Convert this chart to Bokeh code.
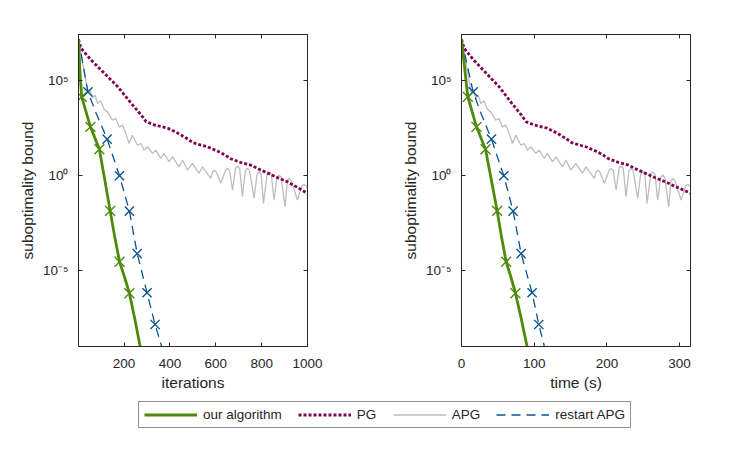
from bokeh.plotting import figure
from bokeh.models import (Range1d, FixedTicker, CustomJSTickFormatter,
                          LinearAxis, LogAxis, Legend)
from bokeh.layouts import row, column
from bokeh.embed import file_html
from bokeh.resources import INLINE

# ---------------- data ----------------
# our algorithm
our_iter = [1, 8, 15, 53, 92, 114, 139, 158, 180, 202, 223, 245, 270, 278]
our_time = [0, 5.4, 8.7, 20.6, 33.0, 40.5, 49.0, 54.7, 61.4, 68.0, 74.2, 81.7, 90.2, 92.7]
our_val = [1.58e7, 2.0e5, 1.45e4, 380, 25, 0.79, 0.0141, 7.1e-4, 2.95e-5,
           4.47e-6, 6.46e-7, 3.55e-8, 1.0e-9, 3.2e-10]
our_mark_iter = [15, 53, 92, 139, 180, 223]
our_mark_time = [8.7, 20.6, 33.0, 49.0, 61.4, 74.2]
our_mark_val = [1.45e4, 380, 25, 0.0141, 2.95e-5, 6.46e-7]

# PG
pg_iter = [1, 12, 56, 114, 172, 230, 274, 296, 332, 390, 434, 476, 500, 534,
           564, 607, 640, 665, 709, 753, 796, 825, 870, 913, 956, 1000]
pg_time = [0, 3.6, 16.8, 34.2, 51.6, 69.0, 82.2, 88.8, 99.6, 117.8, 131.5,
           144.2, 151.5, 161.8, 171.0, 184.5, 194.6, 202.2, 216.2, 229.7,
           243.0, 252.0, 266.5, 280.5, 296.8, 315.6]
pg_val = [1.58e7, 5.25e6, 1.26e6, 2.51e5, 5.0e4, 6.76e3, 1.62e3, 708, 479,
          324, 178, 89, 56, 41.7, 33.9, 20, 12.6, 7.94, 5.0, 3.63, 2.0, 1.41,
          0.79, 0.48, 0.245, 0.117]

# APG
apg_iter = [1, 20, 42, 50, 62, 73, 84, 98, 113, 127, 149, 164, 178, 193, 207,
            222, 236, 258, 273, 287, 302, 324, 338, 360, 374, 396, 411, 440,
            455, 476, 498, 527, 542, 578, 586, 593, 602, 622, 642, 651, 660,
            673, 686, 695, 704, 716, 729, 738, 747, 767, 780, 789, 798, 808,
            824, 833, 842, 854, 867, 876, 885, 902, 912, 920, 930, 956, 975,
            985, 995, 1000]
apg_time = [0, 6.3, 13.3, 15.8, 19.6, 23.1, 26.5, 31.0, 35.7, 40.1, 47.1,
            51.8, 56.2, 61.0, 65.4, 70.2, 74.6, 81.5, 86.3, 90.7, 95.4, 102.4,
            106.8, 113.8, 118.2, 125.1, 129.9, 139.0, 143.8, 150.4, 157.4,
            166.5, 171.3, 182.6, 185.2, 187.4, 190.2, 196.6, 202.9, 205.7,
            208.6, 212.7, 216.8, 219.6, 222.5, 226.3, 230.4, 233.2, 236.1,
            242.4, 246.5, 249.3, 252.2, 255.3, 260.4, 263.2, 266.1, 269.9,
            274.0, 276.8, 279.7, 285.0, 288.2, 290.7, 293.9, 302.1, 308.1,
            311.3, 314.4, 316.0]
apg_val = [1.58e7, 7.9e5, 2.63e4, 3.55e4, 1.26e4, 1.78e4, 6.46e3, 8.9e3,
           3.09e3, 2.34e3, 851, 1.05e3, 380, 468, 178, 50.1, 138, 41.7, 50.1,
           22.4, 33.9, 15.1, 22.4, 8.3, 15.1, 5.5, 10, 2.95, 6.76, 2.0, 4.47,
           1.35, 2.95, 0.72, 1.58, 2.0, 1.58, 0.40, 1.91, 2.45, 1.91, 0.178,
           2.51, 3.16, 2.4, 0.079, 1.91, 2.45, 1.86, 0.065, 1.26, 1.62, 1.23,
           0.035, 1.26, 1.62, 1.2, 0.052, 0.83, 1.1, 0.81, 0.023, 0.56, 0.72,
           0.52, 0.052, 0.28, 0.355, 0.28, 0.24]

# restart APG
rst_iter = [1, 42, 78, 126, 180, 223, 257, 300, 335, 364, 372]
rst_time = [0, 16.0, 26.8, 41.2, 58.2, 71.0, 82.0, 97.1, 106.3, 114.0, 116.5]
rst_val = [1.58e7, 2.63e4, 2.0e3, 85, 1.0, 0.0138, 7.9e-5, 6.8e-7, 1.45e-8,
           1.0e-9, 4.5e-10]
rst_mark_iter = [42, 126, 180, 223, 257, 300, 335]
rst_mark_time = [16.0, 41.2, 58.2, 71.0, 82.0, 97.1, 106.3]
rst_mark_val = [2.63e4, 85, 1.0, 0.0138, 7.9e-5, 6.8e-7, 1.45e-8]

iter_ticks = [200, 400, 600, 800, 1000]
time_ticks = [0, 100, 200, 300]
y_ticks = [1e-5, 1.0, 1e5]

labels = ["our algorithm", "PG", "APG", "restart APG"]

# ---------------- styles ----------------
FONT = "Liberation Sans"
AX = "#262626"
GREEN = "#4f8a0b"
PURPLE = "#7f0052"
GRAY = "#bdbdbd"
BLUE = "#0b5591"
DOT = "3 2"
DASH = "9 6"
NAN = float("nan")

sup_fmt = CustomJSTickFormatter(code=r"""
const e = Math.round(Math.log10(tick));
const m = {"-":"\u207B","0":"\u2070","1":"\u00B9","2":"\u00B2","3":"\u00B3",
           "4":"\u2074","5":"\u2075","6":"\u2076","7":"\u2077","8":"\u2078","9":"\u2079"};
return "10" + String(e).split("").map(c => m[c]).join("");
""")
blank_fmt = CustomJSTickFormatter(code="return '';")


def style_axis(ax, ticks, fmt):
    ax.ticker = FixedTicker(ticks=ticks)
    ax.formatter = fmt
    ax.axis_line_color = AX
    ax.major_tick_line_color = AX
    ax.major_tick_in = 4
    ax.major_tick_out = 0
    ax.minor_tick_line_color = None
    ax.major_label_text_font = FONT
    ax.major_label_text_font_size = "13.5px"
    ax.major_label_text_color = AX
    ax.axis_label_text_font = FONT
    ax.axis_label_text_font_size = "15.5px"
    ax.axis_label_text_font_style = "normal"
    ax.axis_label_text_color = AX


def panel(xr, xticks, xlabel, xs, width, left, right):
    p = figure(width=width, height=395, x_range=xr,
               y_range=Range1d(1e-9, 2.8e7), y_axis_type="log",
               output_backend="svg", toolbar_location=None,
               min_border_left=left, min_border_right=right,
               min_border_top=34, min_border_bottom=49)
    p.grid.visible = False
    p.outline_line_color = AX
    p.outline_line_width = 1
    p.background_fill_color = "white"
    p.border_fill_color = "white"

    style_axis(p.xaxis[0], xticks, p.xaxis[0].formatter)
    p.xaxis[0].axis_label = xlabel
    p.xaxis[0].major_label_standoff = 12
    p.xaxis[0].axis_label_standoff = 3
    style_axis(p.yaxis[0], y_ticks, sup_fmt)
    p.yaxis[0].axis_label = "suboptimality bound"
    p.yaxis[0].major_label_standoff = 10
    p.yaxis[0].axis_label_standoff = 4

    top = LinearAxis()
    style_axis(top, xticks, blank_fmt)
    p.add_layout(top, "above")
    rgt = LogAxis()
    style_axis(rgt, y_ticks, blank_fmt)
    p.add_layout(rgt, "right")

    x_apg, x_pg, x_rst, x_our, x_rst_m, x_our_m = xs
    p.line(x_apg, apg_val, line_color=GRAY, line_width=1.3)
    p.line(x_pg, pg_val, line_color=PURPLE, line_width=2.8, line_dash=DOT)
    p.line(x_rst, rst_val, line_color=BLUE, line_width=1.3, line_dash=DASH)
    p.scatter(x_rst_m, rst_mark_val, marker="x", size=13, line_color=BLUE,
              line_width=1.4)
    p.line(x_our, our_val, line_color=GREEN, line_width=2.8)
    p.scatter(x_our_m, our_mark_val, marker="x", size=14, line_color=GREEN,
              line_width=1.4)
    return p


p1 = panel(Range1d(1, 1000), iter_ticks, "iterations",
           (apg_iter, pg_iter, rst_iter, our_iter, rst_mark_iter, our_mark_iter),
           384, 78, 77)
p2 = panel(Range1d(0, 315), time_ticks, "time (s)",
           (apg_time, pg_time, rst_time, our_time, rst_mark_time, our_mark_time),
           355, 77, 49)

# legend strip (legend-only renderers hold no visible data)
p3 = figure(width=739, height=45, x_range=Range1d(0, 1), y_range=Range1d(0, 1),
            x_axis_type=None, y_axis_type=None, output_backend="svg",
            toolbar_location=None, min_border_left=0, min_border_right=0,
            min_border_top=0, min_border_bottom=0)
p3.outline_line_color = None
p3.grid.visible = False
r1 = p3.line(x=[NAN], y=[NAN], line_color=GREEN, line_width=2.8)
r2 = p3.line(x=[NAN], y=[NAN], line_color=PURPLE, line_width=2.8, line_dash=DOT)
r3 = p3.line(x=[NAN], y=[NAN], line_color=GRAY, line_width=1.3)
r4 = p3.line(x=[NAN], y=[NAN], line_color=BLUE, line_width=1.3, line_dash=DASH)
legend = Legend(items=[(labels[0], [r1]), (labels[1], [r2]),
                       (labels[2], [r3]), (labels[3], [r4])],
                orientation="horizontal", location=(138, 12),
                glyph_width=53, glyph_height=15, label_height=15,
                label_standoff=6, spacing=16, padding=5, margin=0,
                border_line_color=AX, border_line_width=1,
                background_fill_color="white", background_fill_alpha=1,
                label_text_font=FONT, label_text_font_size="13.5px",
                label_text_color=AX)
p3.add_layout(legend, "center")

layout = column(row(p1, p2), p3)
open("out.html", "w", encoding="utf-8").write(file_html(layout, INLINE))
